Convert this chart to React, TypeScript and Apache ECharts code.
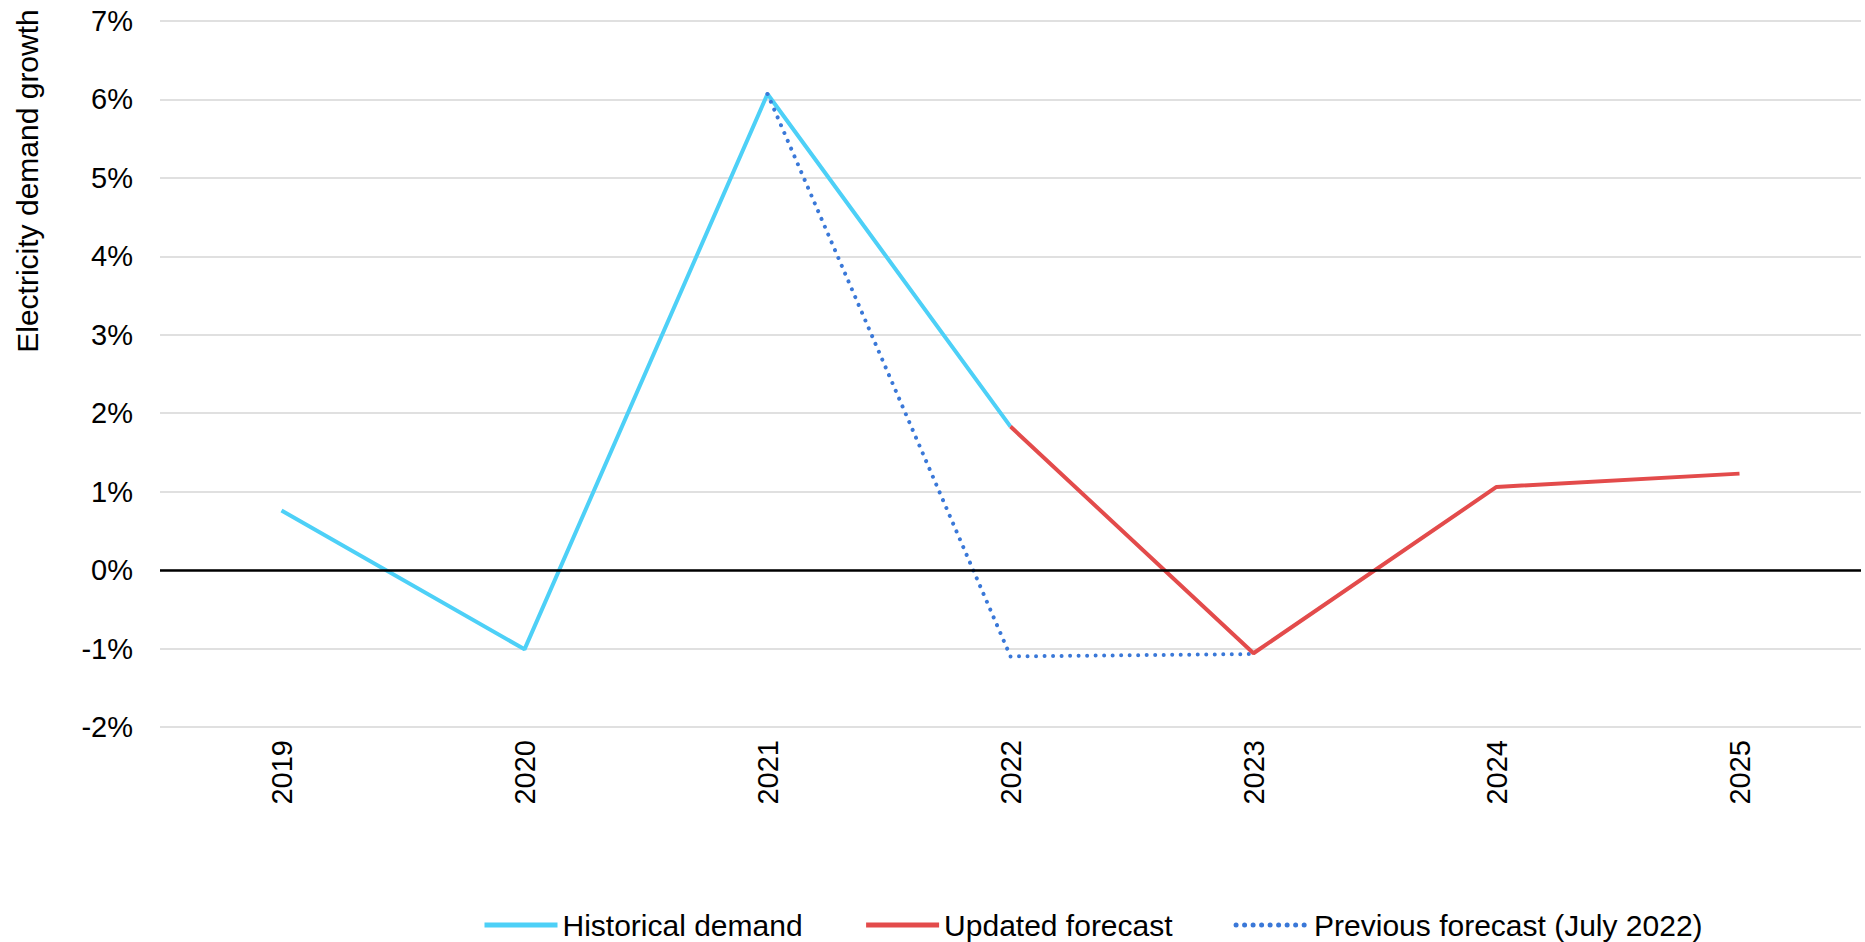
import React, { useEffect, useRef } from "react";
import * as echarts from "echarts";

const years = ["2019", "2020", "2021", "2022", "2023", "2024", "2025"];
const historical = [0.76, -1.01, 6.07, 1.83, null, null, null];
const updated = [null, null, null, 1.83, -1.06, 1.06, 1.23];
const previous = [null, null, 6.07, -1.1, -1.07, null, null];
const yTicks = { min: -2, max: 7, interval: 1 };

const FONT = "'Liberation Sans', Arial, sans-serif";

export default function App() {
  const ref = useRef<HTMLDivElement>(null);
  useEffect(() => {
    document.body.style.margin = "0";
    const chart = echarts.init(ref.current!, null, { renderer: "svg" });
    chart.setOption({
      animation: false,
      backgroundColor: "#ffffff",
      textStyle: { fontFamily: FONT },
      grid: { left: 160, right: 4, top: 21, bottom: 215, containLabel: false },
      xAxis: {
        type: "category",
        data: years,
        boundaryGap: true,
        axisLine: { show: false },
        axisTick: { show: false },
        axisLabel: {
          rotate: 90,
          margin: 13,
          color: "#000",
          fontSize: 29,
          fontFamily: FONT,
        },
      },
      yAxis: {
        type: "value",
        min: yTicks.min,
        max: yTicks.max,
        interval: yTicks.interval,
        axisLine: { show: false },
        axisTick: { show: false },
        splitLine: { lineStyle: { color: "#e0e0e0", width: 2 } },
        axisLabel: {
          formatter: "{value}%",
          margin: 27,
          color: "#000",
          fontSize: 29,
          fontFamily: FONT,
        },
      },
      legend: {
        left: 482,
        top: 910,
        padding: 0,
        itemWidth: 73,
        itemHeight: 14,
        itemGap: 61,
        itemStyle: { color: "transparent", borderWidth: 0, opacity: 0 },
        lineStyle: { width: 5 },
        textStyle: { color: "#000", fontSize: 30, fontFamily: FONT },
        data: ["Historical demand", "Updated forecast", "Previous forecast (July 2022)"],
      },
      graphic: [
        {
          type: "text",
          x: 27,
          y: 181,
          rotation: Math.PI / 2,
          style: {
            text: "Electricity demand growth",
            fill: "#000",
            font: `30px ${FONT}`,
            textAlign: "center",
            textVerticalAlign: "middle",
          },
        },
      ],
      series: [
        {
          name: "Historical demand",
          type: "line",
          data: historical,
          symbol: "none",
          showSymbol: false,
          lineStyle: { color: "#4dd0f7", width: 4 },
          itemStyle: { color: "#4dd0f7" },
          z: 2,
          markLine: {
            silent: true,
            symbol: "none",
            label: { show: false },
            lineStyle: { color: "#000", width: 2.5, type: "solid" },
            data: [{ yAxis: 0 }],
          },
        },
        {
          name: "Previous forecast (July 2022)",
          type: "line",
          data: previous,
          symbol: "none",
          showSymbol: false,
          lineStyle: { color: "#3a78d8", width: 4, type: [0.01, 8.5], cap: "round" },
          itemStyle: { color: "#3a78d8" },
          z: 3,
        },
        {
          name: "Updated forecast",
          type: "line",
          data: updated,
          symbol: "none",
          showSymbol: false,
          lineStyle: { color: "#e34b4b", width: 4 },
          itemStyle: { color: "#e34b4b" },
          z: 4,
        },
      ],
    });
    return () => chart.dispose();
  }, []);
  return (
    <div
      ref={ref}
      style={{ position: "fixed", left: 0, top: 0, width: 1865, height: 942 }}
    />
  );
}
